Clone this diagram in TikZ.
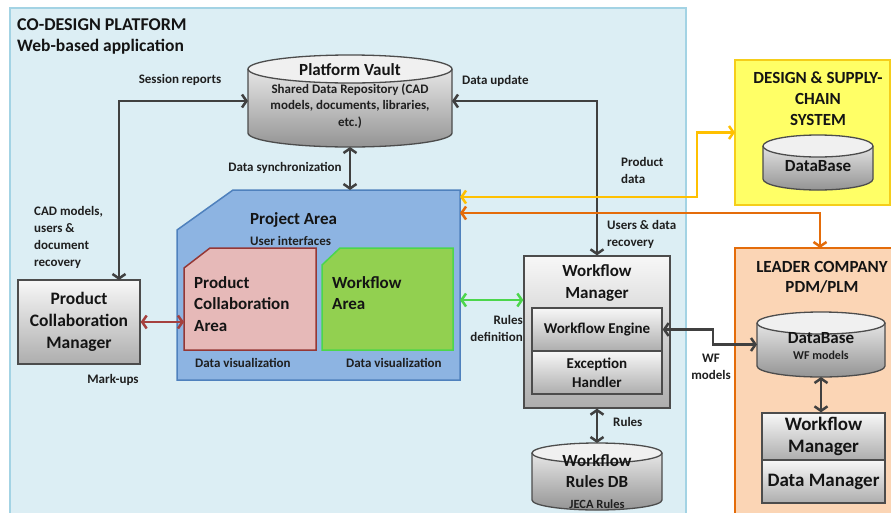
\documentclass[tikz,border=0pt]{standalone}
\usepackage{fontspec}
\setmainfont{Carlito}
\usetikzlibrary{arrows.meta,calc}
\definecolor{platbg}{HTML}{DCEEF4}
\definecolor{platbd}{HTML}{A3D3E4}
\definecolor{pafill}{HTML}{8DB4E2}
\definecolor{pabd}{HTML}{4F81BD}
\definecolor{pcafill}{HTML}{E6B9B8}
\definecolor{pcabd}{HTML}{953735}
\definecolor{wfafill}{HTML}{92D050}
\definecolor{wfabd}{HTML}{4CD64C}
\definecolor{dsfill}{HTML}{FFFF66}
\definecolor{dsbd}{HTML}{F5CE1A}
\definecolor{ldfill}{HTML}{FBD5B5}
\definecolor{ldbd}{HTML}{E46C0A}
\definecolor{yarr}{HTML}{FFC000}
\definecolor{oarr}{HTML}{E46C0A}
\definecolor{garr}{HTML}{4CD64C}
\definecolor{rarr}{HTML}{A5403E}
\definecolor{darr}{HTML}{404040}
\newcommand\cylshape[5]{%
 \pgfmathsetmacro\cylcx{(#1+#2)/2}%
 \pgfmathsetmacro\cylrx{(#2-#1)/2}%
 \pgfmathsetmacro\cylyt{#3+#5}%
 \pgfmathsetmacro\cylyb{#4-#5}%
 \path[top color=black!4,bottom color=black!42] (#1,\cylyt) -- (#1,\cylyb) arc[start angle=180,end angle=0,x radius=\cylrx,y radius=#5] -- (#2,\cylyt) arc[start angle=0,end angle=-180,x radius=\cylrx,y radius=#5] -- cycle;
 \draw[cylline] (#1,\cylyt) -- (#1,\cylyb) arc[start angle=180,end angle=0,x radius=\cylrx,y radius=#5] -- (#2,\cylyt);
 \draw[cylline,fill=black!6] (\cylcx,\cylyt) ellipse[x radius=\cylrx,y radius=#5];
}
\begin{document}
\begin{tikzpicture}[x=1pt,y=-1pt,
 cylline/.style={draw=black!70,line width=1.3pt},
 anchorbox/.style={inner sep=0pt,outer sep=0pt},
 lbl/.style={font=\bfseries\fontsize{13}{17}\selectfont,text=black!88,inner sep=0pt},
 small/.style={font=\bfseries\fontsize{13}{16.5}\selectfont,text=black!88,inner sep=0pt},
 head/.style={font=\bfseries\fontsize{17}{21}\selectfont,text=black!92,inner sep=0pt},
 graybox/.style={draw=black!70,line width=1.3pt,top color=black!3,bottom color=black!32,inner sep=0pt,align=center,text=black!92},
 tipA/.tip={Straight Barb[length=4.5pt,width=13pt]},
 darrow/.style={draw=darr,line width=2.5pt,tipA-tipA},
 yarrow/.style={draw=yarr,line width=2.5pt,tipA-tipA},
 oarrow/.style={draw=oarr,line width=2.5pt,tipA-tipA},
 garrow/.style={draw=garr,line width=2.5pt,tipA-tipA},
 rarrow/.style={draw=rarr,line width=2.5pt,tipA-tipA},
]
\useasboundingbox (0,0) rectangle (891,512);
\clip (0,0) rectangle (891,512);
\fill[white] (0,0) rectangle (891,512);

% platform
\draw[draw=platbd,fill=platbg,line width=2pt] (10,8) rectangle (686,540);
\node[head,anchor=west,font=\bfseries\fontsize{18}{21}\selectfont] (t1) at (17,25) {CO-DESIGN PLATFORM};
\node[head,anchor=west,font=\bfseries\fontsize{17.5}{20}\selectfont] (t2) at (17,47) {Web-based application};

% external boxes
\node[anchorbox,draw=dsbd,fill=dsfill,line width=2pt,minimum width=155pt,minimum height=145pt] (ds) at (812.5,132.5) {};
\node[head,align=center,font=\bfseries\fontsize{17}{21}\selectfont] (dst) at (818,99) {DESIGN \& SUPPLY-\\CHAIN\\SYSTEM};
\node[anchorbox,minimum width=110pt,minimum height=55pt] (dsdb) at (818,162.5) {};
\cylshape{763}{873}{135}{190}{11}
\node[head] at (818,166) {DataBase};

\node[anchorbox,draw=ldbd,fill=ldfill,line width=2pt,minimum width=170pt,minimum height=292pt] (ld) at (820,394) {};
\node[head,align=center,font=\bfseries\fontsize{17}{20}\selectfont] (ldt) at (822,277) {LEADER COMPANY\\PDM/PLM};
\node[anchorbox,minimum width=128pt,minimum height=65pt] (ldb) at (821,344.5) {};
\cylshape{757}{885}{312}{377}{11}
\node[head,font=\bfseries\fontsize{17}{19}\selectfont] at (821,338) {DataBase};
\node[small,font=\bfseries\fontsize{12}{14}\selectfont] at (821,355) {WF models};
\node[graybox,minimum width=123pt,minimum height=47pt,font=\bfseries\fontsize{19}{22}\selectfont] (lwm) at (823.5,436.5) {Workflow\\Manager};
\node[graybox,minimum width=123pt,minimum height=43pt,font=\bfseries\fontsize{19}{22}\selectfont] (ldm) at (823.5,481.5) {Data Manager};

% vault
\node[anchorbox,minimum width=204pt,minimum height=92pt] (vault) at (350,101) {};
\cylshape{248}{452}{55}{147}{14}
\node[head,font=\bfseries\fontsize{17}{18}\selectfont] at (350,70) {Platform Vault};
\node[small,align=center] at (350,106) {Shared Data Repository (CAD\\models, documents, libraries,\\etc.)};

% project area
\node[anchorbox,minimum width=283pt,minimum height=190pt] (pa) at (318.5,285) {};
\draw[draw=pabd,fill=pafill,line width=1.5pt] (177,230) -- (233,190) -- (460,190) -- (460,380) -- (177,380) -- cycle;
\node[head,anchor=west] at (250,220) {Project Area};
\node[lbl,anchor=west] at (250,241) {User interfaces};
\node[anchorbox,minimum width=132pt,minimum height=102pt] (pca) at (250,299) {};
\draw[draw=pcabd,fill=pcafill,line width=1.5pt] (184,268) -- (210,248) -- (316,248) -- (316,350) -- (184,350) -- cycle;
\node[head,align=left,anchor=north west,font=\bfseries\fontsize{17}{21.5}\selectfont] at (194,276) {Product\\Collaboration\\Area};
\node[anchorbox,minimum width=131pt,minimum height=102pt] (wfa) at (387.5,299) {};
\draw[draw=wfabd,fill=wfafill,line width=1.5pt] (322,265) -- (340,248) -- (453,248) -- (453,350) -- (322,350) -- cycle;
\node[head,align=left,anchor=north west,font=\bfseries\fontsize{17}{21.5}\selectfont] at (332,276) {Workflow\\Area};
\node[lbl,anchor=west] at (195,363) {Data visualization};
\node[lbl,anchor=west] at (346,363) {Data visualization};

% product collaboration manager
\node[graybox,minimum width=122pt,minimum height=84pt,font=\bfseries\fontsize{17.5}{22}\selectfont] (pcm) at (79,322) {Product\\Collaboration\\Manager};

% workflow manager
\node[graybox,minimum width=146pt,minimum height=152pt] (wfm) at (597,332) {};
\node[head,align=center,font=\bfseries\fontsize{17}{22}\selectfont] at (597,283) {Workflow\\Manager};
\node[graybox,minimum width=130pt,minimum height=43pt,font=\bfseries\fontsize{15}{19}\selectfont] (engine) at (597,329.5) {Workflow Engine};
\node[graybox,minimum width=130pt,minimum height=43pt,font=\bfseries\fontsize{15}{19}\selectfont] (exc) at (597,372.5) {Exception\\Handler};

% rules db
\node[anchorbox,minimum width=131pt,minimum height=67pt] (rdb) at (597,476.5) {};
\cylshape{532}{662}{443}{510}{10}
\node[head] at (597,461) {Workflow};
\node[head] at (597,482) {Rules DB};
\node[lbl,font=\bfseries\fontsize{12.5}{15}\selectfont] at (597,504) {JECA Rules};

% coordinates
\coordinate (pcmtop) at (119,280);
\coordinate (pasync) at (350,190);
\coordinate (payel) at (460,197);
\coordinate (ybend) at (697,197);
\coordinate (paor) at (460,213);
\coordinate (pagreen) at (460,300);
\coordinate (pcaleft) at (184,322);
\coordinate (wfbend) at (713,329.5);

% connectors
\draw[darrow] (pcmtop) |- (vault.west);
\draw[darrow] (wfm.north) |- (vault.east);
\draw[darrow] (vault.south) -- (pasync);
\draw[darrow] (wfm.south) -- (rdb.north);
\draw[darrow] (engine.east) -- (wfbend) |- (ldb.west);
\draw[darrow] (ldb.south) -- (ldb.south |- lwm.north);
\draw[rarrow] (pcm.east) -- (pcaleft);
\draw[garrow] (pagreen) -- (pagreen -| wfm.west);
\draw[yarrow] (payel) -- (ybend) |- (ds.west);
\draw[oarrow] (paor) -| (ld.north);

% labels
\node[lbl] at (180,80) {Session reports};
\node[lbl,anchor=west] at (462,81) {Data update};
\node[lbl] at (285,168) {Data synchronization};
\node[lbl,anchor=west,align=left] at (621,170) {Product\\data};
\node[lbl,anchor=west,align=left] at (607,234.5) {Users \& data\\recovery};
\node[lbl,anchor=west,align=left] at (34,237.5) {CAD models,\\users \&\\document\\recovery};
\node[lbl] at (113,380) {Mark-ups};
\node[lbl,anchor=east,align=right] at (523,328.5) {Rules\\definition};
\node[lbl,anchor=west] at (613,422) {Rules};
\node[lbl,align=center] at (711,367) {WF\\models};
\end{tikzpicture}
\end{document}
